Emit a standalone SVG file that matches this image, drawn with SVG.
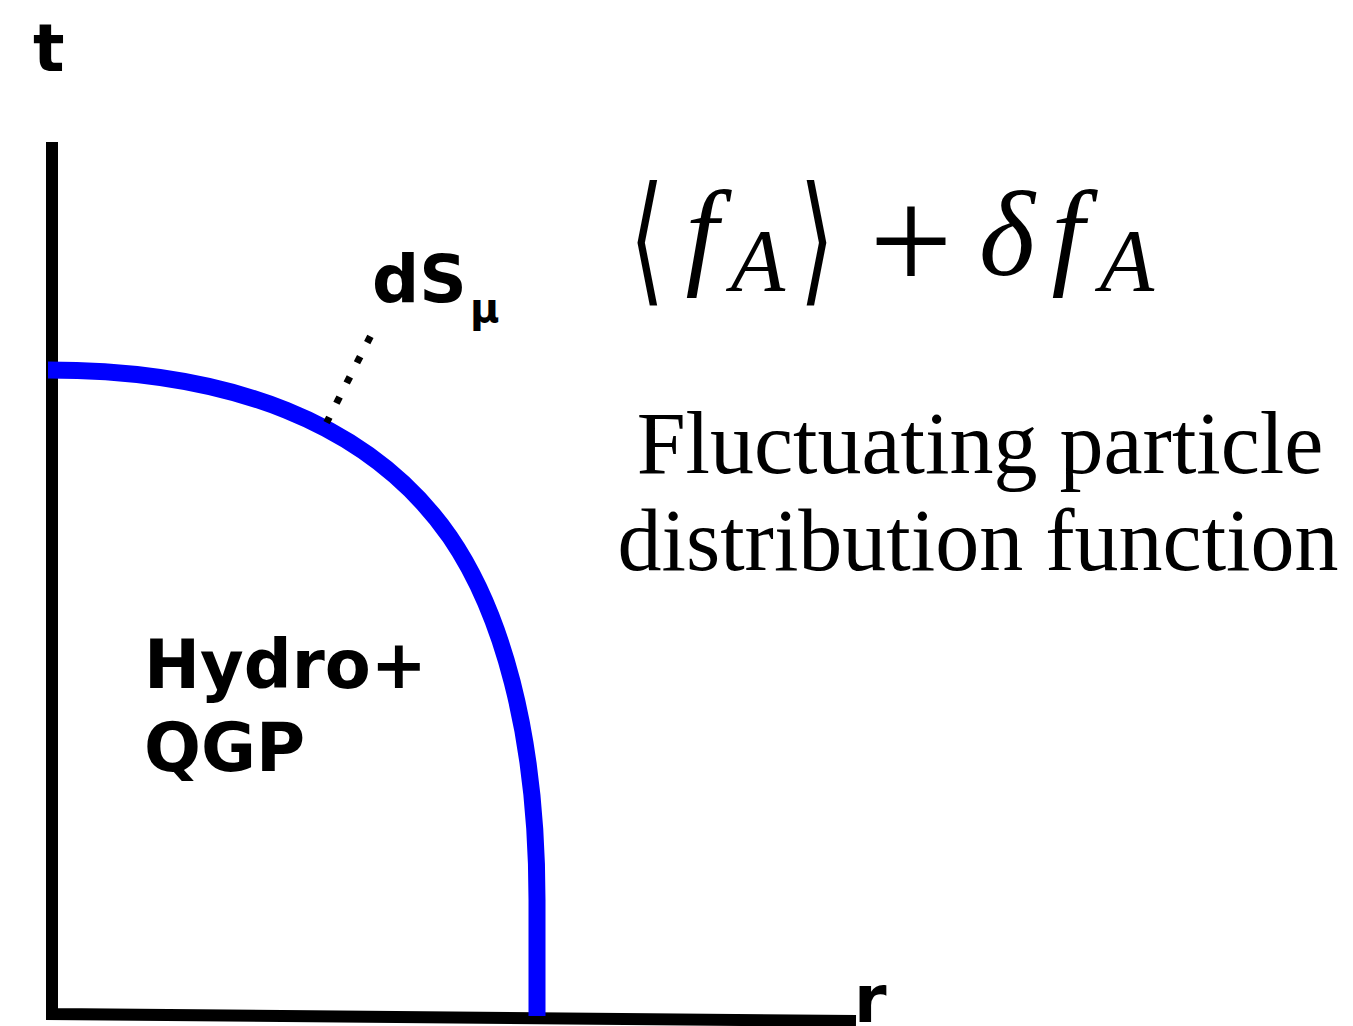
<svg xmlns="http://www.w3.org/2000/svg" width="1353" height="1026" viewBox="0 0 1353 1026">
<style>
.lbl{font-family:"DejaVu Sans",sans-serif;font-weight:bold;fill:#000}
.math{font-family:"Liberation Serif",serif;font-style:italic;fill:#000}
.brk{font-family:"DejaVu Sans",sans-serif;font-size:85px;fill:#000;text-anchor:middle}
.txt{font-family:"Liberation Serif",serif;font-size:88px;fill:#000;text-anchor:middle}
</style>
<rect width="1353" height="1026" fill="#fff"/>
<g id="axes">
<path d="M52,142 L52,1014 L856,1021" fill="none" stroke="#000" stroke-width="12" stroke-linejoin="miter"/>
<text class="lbl" x="33" y="71" font-size="66">t</text>
<text class="lbl" x="854" y="1022" font-size="66">r</text>
</g>
<g id="freezeout">
<path d="M48,370 C228,370 370,422 450,537 C500,610 537,730 537,900 L537,1016" fill="none" stroke="#0000ff" stroke-width="17"/>
</g>
<g id="connectors">
<line x1="370.4" y1="336.3" x2="326.6" y2="422.7" stroke="#000" stroke-width="7" stroke-dasharray="7 15.7"/>
</g>
<g id="dS">
<text class="lbl" x="372" y="302" font-size="66">dS</text>
<text class="lbl" x="470" y="322" font-size="40">μ</text>
</g>
<g id="hydro">
<text class="lbl" x="144" y="688" font-size="67">Hydro+</text>
<text class="lbl" x="144" y="771" font-size="67">QGP</text>
</g>
<g id="formula">
<text class="brk" transform="translate(647,287) scale(1.05,1.66)">⟨</text>
<text class="math" x="702" y="273" font-size="118" text-anchor="middle">f</text>
<text class="math" x="758" y="290" font-size="89" text-anchor="middle">A</text>
<text class="brk" transform="translate(817,287) scale(1.05,1.66)">⟩</text>
<text x="911" y="291" font-family="Liberation Serif,serif" font-size="148" text-anchor="middle">+</text>
<text class="math" x="1007" y="275" font-size="120" text-anchor="middle">δ</text>
<text class="math" x="1068" y="273" font-size="118" text-anchor="middle">f</text>
<text class="math" x="1127" y="290" font-size="89" text-anchor="middle">A</text>
</g>
<g id="caption">
<text class="txt" x="980" y="473">Fluctuating particle</text>
<text class="txt" x="978" y="570">distribution function</text>
</g>
</svg>
